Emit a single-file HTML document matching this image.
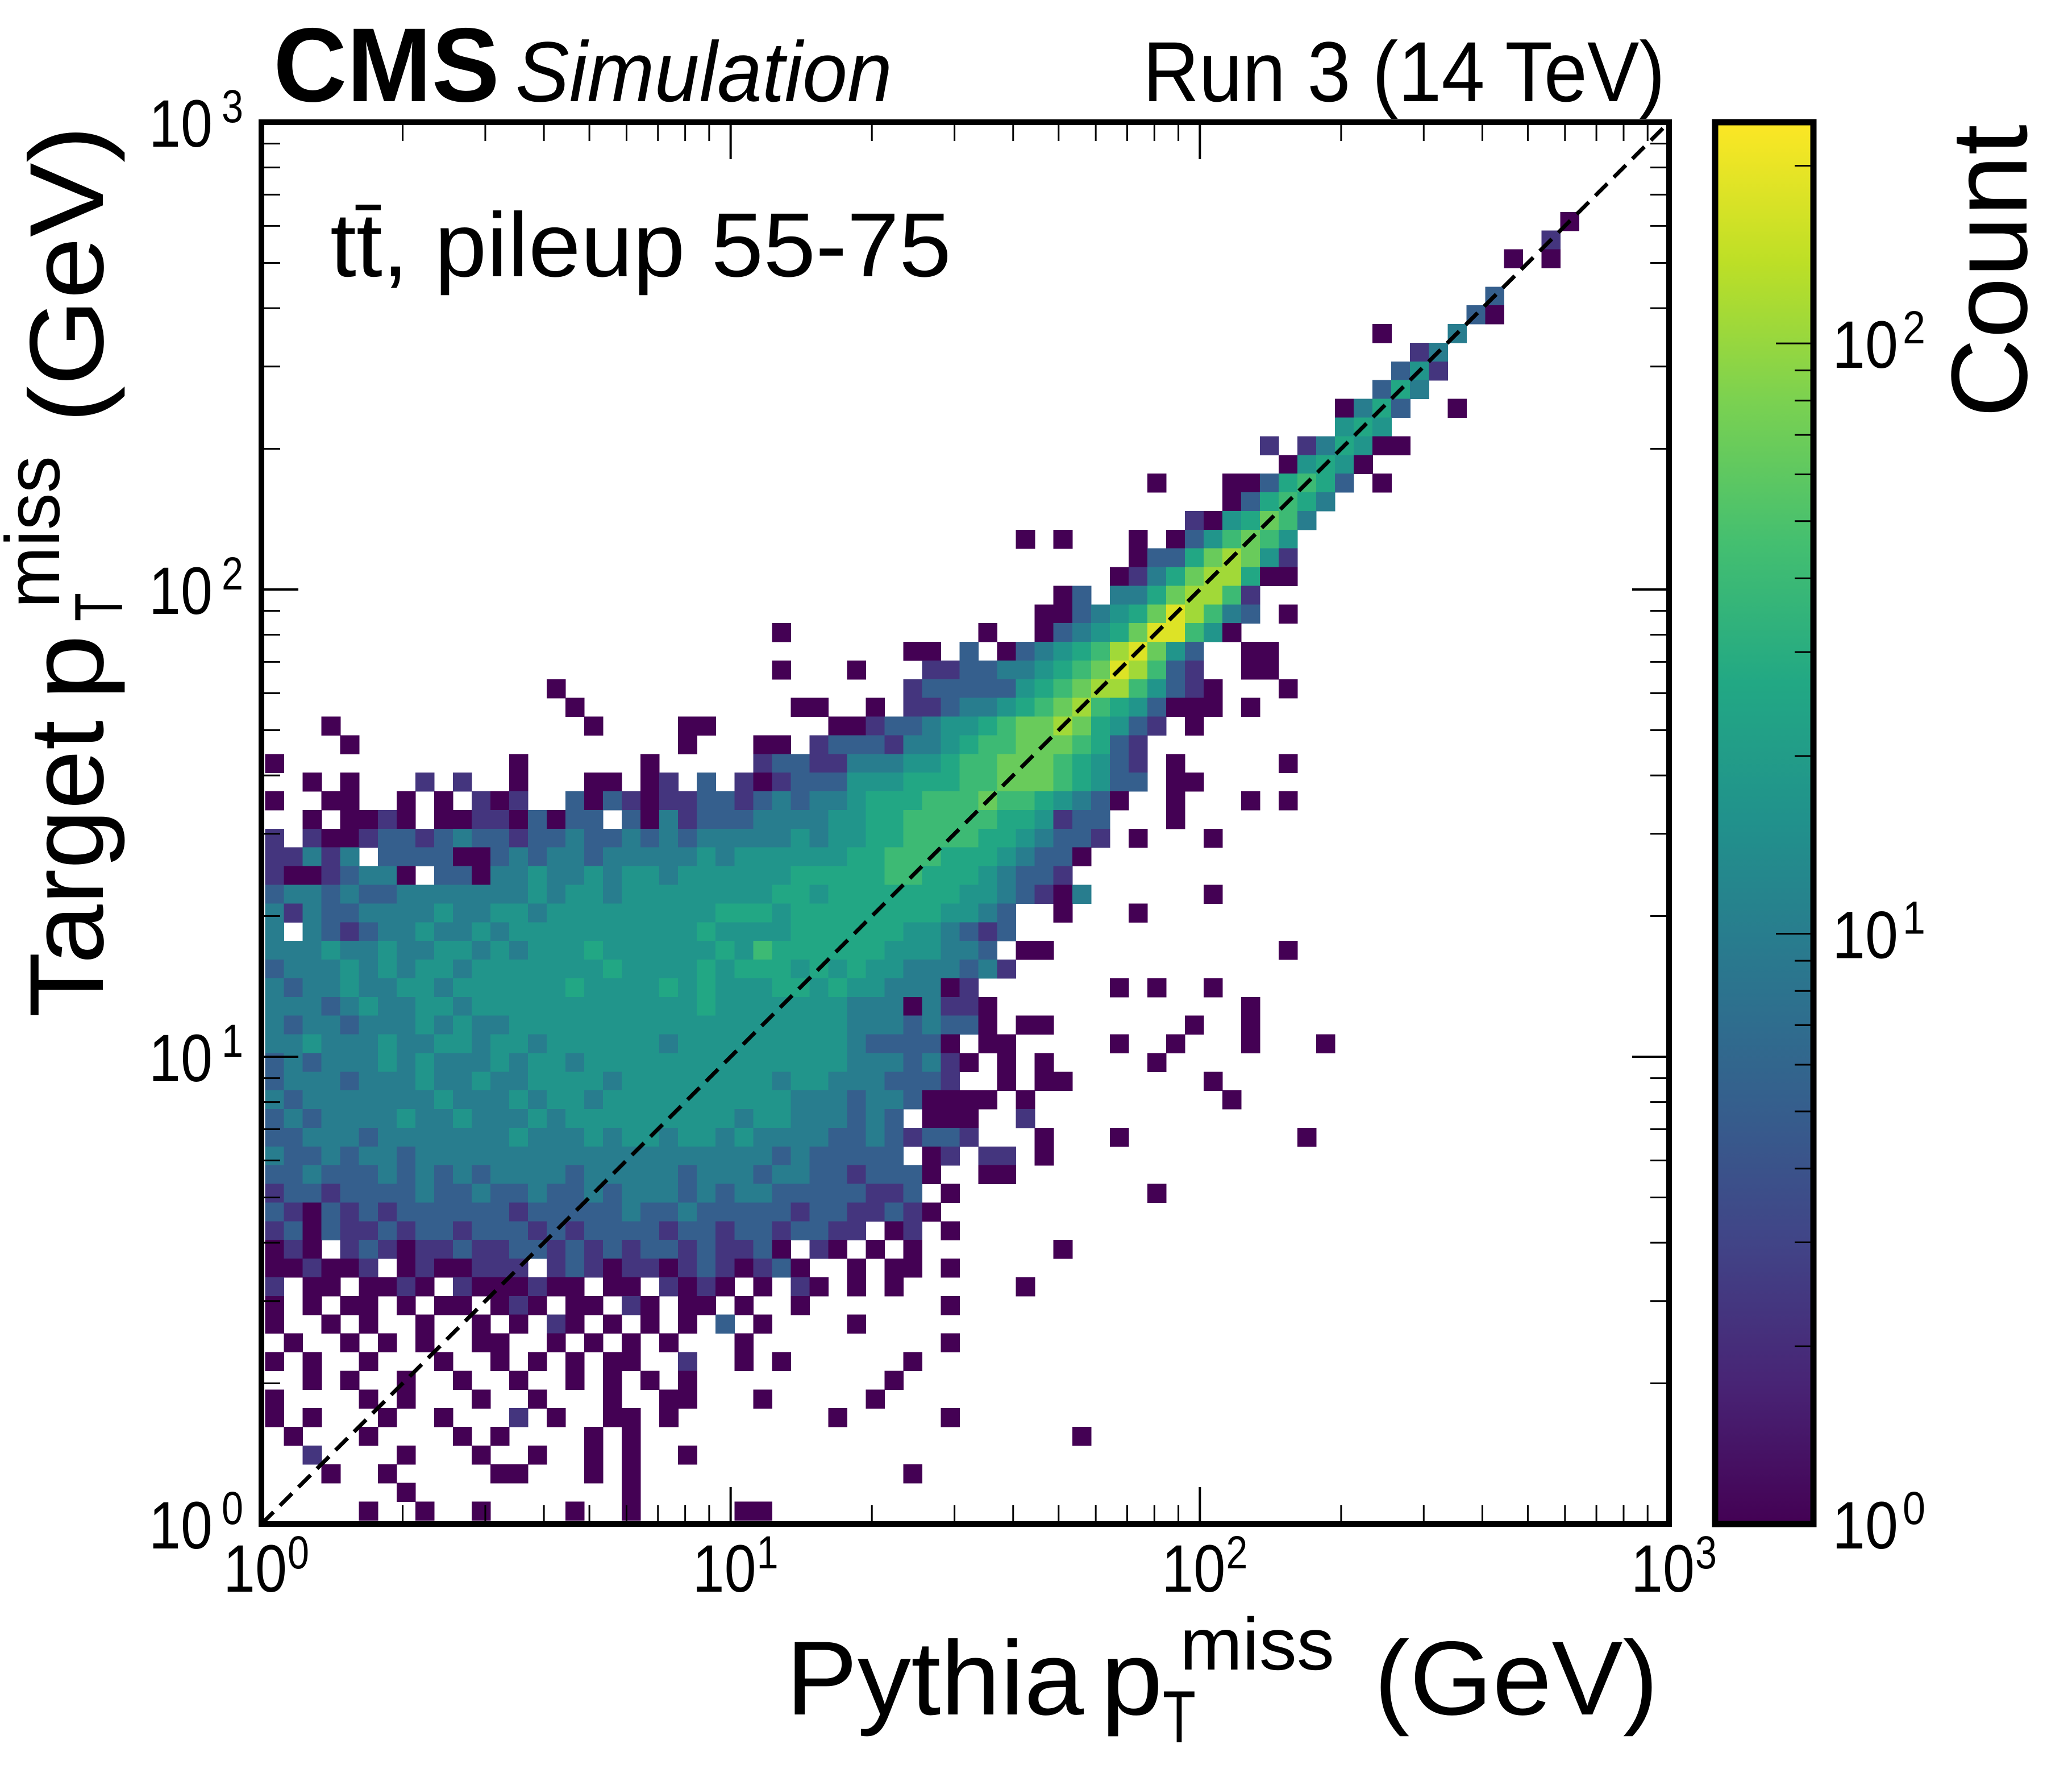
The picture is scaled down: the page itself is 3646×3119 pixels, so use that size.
<!DOCTYPE html>
<html><head><meta charset="utf-8"><title>CMS Simulation - pTmiss 2D histogram</title>
<style>
html,body{margin:0;padding:0;background:#fff;}
svg{display:block;}
text{font-family:"Liberation Sans","DejaVu Sans",sans-serif;fill:#000;}
</style></head>
<body>
<svg id="chart" xmlns="http://www.w3.org/2000/svg" width="3646" height="3119" viewBox="0 0 3646 3119">
<rect x="0" y="0" width="3646" height="3119" fill="#fff"/>
<defs>
<clipPath id="plotClip"><rect x="460" y="215" width="2477" height="2466"/></clipPath>
<linearGradient id="cbarGrad" x1="0" y1="1" x2="0" y2="0">
<stop offset="0" stop-color="#440154"/><stop offset="0.1" stop-color="#482475"/><stop offset="0.2" stop-color="#414487"/><stop offset="0.3" stop-color="#355f8d"/><stop offset="0.4" stop-color="#2a788e"/><stop offset="0.5" stop-color="#21918c"/><stop offset="0.6" stop-color="#22a884"/><stop offset="0.7" stop-color="#44bf70"/><stop offset="0.8" stop-color="#7ad151"/><stop offset="0.9" stop-color="#bddf26"/><stop offset="1" stop-color="#fde725"/>
</linearGradient>
</defs>
<g id="cells" clip-path="url(#plotClip)" shape-rendering="crispEdges"></g>
<line id="diag" x1="460" y1="2681" x2="2937" y2="215" stroke="#000" stroke-width="7" stroke-dasharray="30 16"/>
<g id="ticks"></g>
<rect x="460" y="215" width="2477" height="2466" fill="none" stroke="#000" stroke-width="10"/>
<g id="ticklabels"></g>
<rect x="3018" y="215" width="173" height="2466" fill="url(#cbarGrad)" stroke="#000" stroke-width="11"/>
<g id="cbarticks"></g>

<text x="481" y="178" font-size="185" font-weight="bold" textLength="398" lengthAdjust="spacingAndGlyphs">CMS</text>
<text x="907" y="178" font-size="150" font-style="italic" textLength="663" lengthAdjust="spacingAndGlyphs">Simulation</text>
<text x="2011" y="178" font-size="150" textLength="919" lengthAdjust="spacingAndGlyphs">Run 3 (14 TeV)</text>
<text x="581" y="486" font-size="160" textLength="1093" lengthAdjust="spacingAndGlyphs">tt̄, pileup 55-75</text>

<g>
<text x="1383" y="3016" font-size="185" textLength="524" lengthAdjust="spacingAndGlyphs">Pythia</text>
<text x="1937" y="3016" font-size="185" textLength="109" lengthAdjust="spacingAndGlyphs">p</text>
<text x="2076" y="2937" font-size="130" textLength="272" lengthAdjust="spacingAndGlyphs">miss</text>
<text x="2046" y="3065" font-size="130" textLength="58" lengthAdjust="spacingAndGlyphs">T</text>
<text x="2418" y="3016" font-size="185" textLength="500" lengthAdjust="spacingAndGlyphs">(GeV)</text>
</g>
<g>
<text transform="translate(181,1790) rotate(-90)" font-size="185" textLength="523" lengthAdjust="spacingAndGlyphs">Target</text>
<text transform="translate(181,1232) rotate(-90)" font-size="185" textLength="116" lengthAdjust="spacingAndGlyphs">p</text>
<text transform="translate(215,1093) rotate(-90)" font-size="120" textLength="50" lengthAdjust="spacingAndGlyphs">T</text>
<text transform="translate(104,1070) rotate(-90)" font-size="135" textLength="268" lengthAdjust="spacingAndGlyphs">miss</text>
<text transform="translate(181,744) rotate(-90)" font-size="185" textLength="523" lengthAdjust="spacingAndGlyphs">(GeV)</text>
</g>
<text transform="translate(3566,735) rotate(-90)" font-size="190" textLength="516" lengthAdjust="spacingAndGlyphs">Count</text>
</svg>

<script>
// ---- data ----
const xTickExps = [0, 1, 2, 3];
const yTickExps = [0, 1, 2, 3];
const cbarTickExps = [0, 1, 2];
const cbarMax = 237;
const binsPerDecade = 25;
const binOffset = 0.2;
// approximate count represented by each level digit
const levelCounts = [1, 2.3, 5.2, 10, 17, 26, 41, 67, 109, 180];
// each row: [yBin, "xStart:levels ..."]; '.' empty; '|' is only a visual separator
const histRows = [
[69,"69:0"],[68,"68:1"],[67,"66:0.0"],[65,"65:2"],[64,"64:20"],[63,"59:0 63:3"],
[62,"61:13"],[61,"60:241"],[60,"59:253"],[59,"57:0352 63:0"],[58,"57:454"],
[57,"53:1.135400"],[56,"54:04540"],[55,"47:0 51:0025652.0"],[54,"51:025653"],
[53,"49:1045763"],[52,"40:0 42:0 46:0 48:0246764"],[51,"46:022578741"],
[50,"45:0135788500"],[49,"42:02.33578861"],[48,"41:002345798632.0"],
[47,"27:0 38:0 41:02345799640"],[46,"34:00.2.02345689742..00"],
[45,"27:0 31:0 35:112233456798621..00"],[44,"15:0 34:12222245678864210...0"],
[43,"16:0 28:00 32:0.11233456786542000.0"],[42,"3:0 17:0 22:00 30:001223445677875421.0"],
[41,"4:0 22:0 26:00.122213345667776521"],[40,"0:0 13:0 20:0 26:122113334456677765421.0.....0"],
[39,"0:..0.0...1.|1..0...00.|01.2.10122|2444555667|7765422.00"],
[38,"0:0..00..0.0|.101..2021|0112212323|3455566676|654320..0.|..0.0"],
[37,"0:..0.0010.0|01102022.2|0312223333|4455666665|54122...0"],
[36,"0:1.10012212|3221223223|2323333343|4455666655|43221.0...|0"],
[35,"0:11313.2222|0023233233|3334344444|4556665554|3220"],
[34,"0:10012330.2|2033433434|4344444455|5556655543|221"],
[33,"0:2332322333|3333434434|4444444554|5555555443|2103......|0"],
[32,"0:3132233334|3344344444|4444555455|5555554432|..0...0"],
[31,"0:3.32123343|3434444444|4445444455|5555443212"],
[30,"0:3334334334|4343444544|4444546555|555444332.|00........|....0"],
[29,"0:2333434344|3444444454|4445455545|4544333231"],
[28,"0:3233433443|4444445444|4545444554|54433301..|.....0.0..|0"],
[27,"0:3332343344|3444444444|4445444444|433303110.|..........|..0"],
[26,"0:3233233343|4334444444|4444444444|433323220.|00.......0|..0"],
[25,"0:3343334334|4344344444|4344444444|4322220.00|.....0..0.|..0...0"],
[24,"0:2323334343|3343443444|4444444444|43332310.0|.0.....0"],
[23,"0:2333233343|3433444434|4444444344|3332221..0|.00.......|0"],
[22,"0:3233333334|3334344344|4444444433|323320000.|0.........|.0"],
[21,"0:2323333433|4333434444|4444434433|3232.000..|1"],
[20,"0:2233323333|3334333434|4344343333|22321221..|.0...0....|.....0"],
[19,"0:3223233233|3333333333|3333333232|2222.01.11|.0"],
[18,"0:2232223232|3233332333|3323332332|212220..00"],
[17,"0:1221222232|2322322323|3323233222|22112.0...|.......0"],
[16,"0:2102121222|2221222223|2232222212|211210"],
[15,"0:1202112122|1222121222|2122122122|11.01.0"],
[14,"0:010.121011|2112212121|22121120.1|0.0.0.....|..0"],
[13,"0:001001.010|0111.12101|101210120.|.0.00.0"],
[12,"0:1.00.0010.|1000100.00|.1010.0.10|.0.0......|0"],
[11,"0:0.0.00.0.0|0.010.00.1|0.00.0..0.|......0"],
[10,"0:0..0.0..0.|.0.0.10.0.|0.0.2.0...|.0"],
[9,"0:.0..0.0.0.|.00..0.0.0|.0...0....|......0"],
[8,"0:0.0..0...0|..0.0.0.00|..1..0.0..|....0"],
[7,"0:..0.0..0..|0..0..0.0.|0.0.......|...0"],
[6,"0:0....0.0..|.0..0...0.|.00...0...|..0"],
[5,"0:0.0...0..0|...1.0..00|.0........|0.....0"],
[4,"0:.0...0....|0.0....0.0|..........|..........|...0"],
[3,"0:..1....0..|.0..0..0.0|..0"],
[2,"0:...0..0...|..00...0.0|..........|....0"],
[1,"0:.......0..|.........0"],
[0,"5:0 8:0 11:0 16:0 19:0 25:00"]
];

// ---- geometry ----
const PL = 460, PR = 2937, PT = 215, PB = 2681;
const CBL = 3018, CBR = 3191;
function X(v){ return PL + Math.log10(v) / 3 * (PR - PL); }
function Y(v){ return PB - Math.log10(v) / 3 * (PB - PT); }
function CY(c){ return PB - Math.log10(c) / Math.log10(cbarMax) * (PB - PT); }
const NS = "http://www.w3.org/2000/svg";
const vir = [[68,1,84],[72,36,117],[65,68,135],[53,95,141],[42,120,142],[33,145,140],[34,168,132],[68,191,112],[122,209,81],[189,223,38],[253,231,37]];
function viridis(t){
  t = Math.max(0, Math.min(1, t));
  const p = t * 10, k = Math.min(9, Math.floor(p)), f = p - k;
  const a = vir[k], b = vir[k+1];
  return "rgb(" + [0,1,2].map(n => Math.round(a[n] + (b[n]-a[n]) * f)).join(",") + ")";
}
function mk(tag, attrs, parent){
  const el = document.createElementNS(NS, tag);
  for (const key in attrs) el.setAttribute(key, attrs[key]);
  parent.appendChild(el);
  return el;
}

// ---- cells ----
const cellG = document.getElementById("cells");
for (const [j, spec] of histRows) {
  if (!spec) continue;
  for (const seg of spec.split(" ")) {
    const parts = seg.split(":");
    const start = parseInt(parts[0], 10);
    const str = parts[1].replace(/\|/g, "");
    for (let k = 0; k < str.length; k++) {
      const ch = str[k];
      if (ch === ".") continue;
      const count = levelCounts[parseInt(ch, 10)];
      const i = start + k;
      const x0 = X(Math.pow(10, (i + binOffset) / binsPerDecade));
      const x1 = X(Math.pow(10, (i + 1 + binOffset) / binsPerDecade));
      const y0 = Y(Math.pow(10, (j + 1 + binOffset) / binsPerDecade));
      const y1 = Y(Math.pow(10, (j + binOffset) / binsPerDecade));
      const t = Math.log10(count) / Math.log10(cbarMax);
      const r = mk("rect", {x: x0.toFixed(1), y: y0.toFixed(1), width: (x1 - x0 + 0.6).toFixed(1), height: (y1 - y0 + 0.6).toFixed(1), fill: viridis(t)}, cellG);
      
      
    }
  }
}

// ---- axis ticks ----
const tickG = document.getElementById("ticks");
const MAJ = 65, MIN = 33;
function tickLine(x1, y1, x2, y2, w){
  return mk("line", {x1: x1, y1: y1, x2: x2, y2: y2, stroke: "#000", "stroke-width": w}, tickG);
}
for (const e of xTickExps) {
  const x = X(Math.pow(10, e));
  const a = tickLine(x, PB, x, PB - MAJ, 4);
  
  
  const b = tickLine(x, PT, x, PT + MAJ, 4);
  
  
}
for (const e of yTickExps) {
  const y = Y(Math.pow(10, e));
  const a = tickLine(PL, y, PL + MAJ, y, 4);
  
  
  const b = tickLine(PR, y, PR - MAJ, y, 4);
  
  
}
for (let e = 0; e < 3; e++) {
  for (let m = 2; m <= 9; m++) {
    const v = m * Math.pow(10, e);
    const x = X(v), y = Y(v);
    const a = tickLine(x, PB, x, PB - MIN, 3);
    
    
    const b = tickLine(x, PT, x, PT + MIN, 3);
    
    
    const c = tickLine(PL, y, PL + MIN, y, 3);
    
    
    const d = tickLine(PR, y, PR - MIN, y, 3);
    
    
  }
}

// ---- tick labels ----
const labG = document.getElementById("ticklabels");
function label(x, y, base, sup, sx, sy){
  const g = mk("g", {}, labG);
  const t1 = mk("text", {x: x, y: y, "font-size": 118, textLength: 112, lengthAdjust: "spacingAndGlyphs"}, g);
  t1.textContent = base;
  const t2 = mk("text", {x: sx, y: sy, "font-size": 82, textLength: 38, lengthAdjust: "spacingAndGlyphs"}, g);
  t2.textContent = sup;
  return g;
}
for (const e of xTickExps) {
  const x = X(Math.pow(10, e));
  const g = label(x - 67, 2800, "10", String(e), x + 46, 2759);
  
  
}
for (const e of yTickExps) {
  const y = Y(Math.pow(10, e));
  const g = label(262, y + 43, "10", String(e), 390, y);
  
  
}

// ---- colorbar ticks ----
const cbG = document.getElementById("cbarticks");
for (const e of cbarTickExps) {
  const y = CY(Math.pow(10, e));
  if (e > 0) {
    const l = mk("line", {x1: CBR - 5, y1: y, x2: CBR - 66, y2: y, stroke: "#000", "stroke-width": 3}, cbG);
    
    
  }
  const g = mk("g", {}, cbG);
  const t1 = mk("text", {x: 3224, y: y + 43, "font-size": 118, textLength: 116, lengthAdjust: "spacingAndGlyphs"}, g);
  t1.textContent = "10";
  const t2 = mk("text", {x: 3348, y: y, "font-size": 82, textLength: 40, lengthAdjust: "spacingAndGlyphs"}, g);
  t2.textContent = String(e);
  
  
}
for (let e = 0; e < 3; e++) {
  for (let m = 2; m <= 9; m++) {
    const v = m * Math.pow(10, e);
    if (v >= cbarMax) continue;
    const y = CY(v);
    const l = mk("line", {x1: CBR - 5, y1: y, x2: CBR - 33, y2: y, stroke: "#000", "stroke-width": 3}, cbG);
    
    
  }
}
</script>
</body></html>
